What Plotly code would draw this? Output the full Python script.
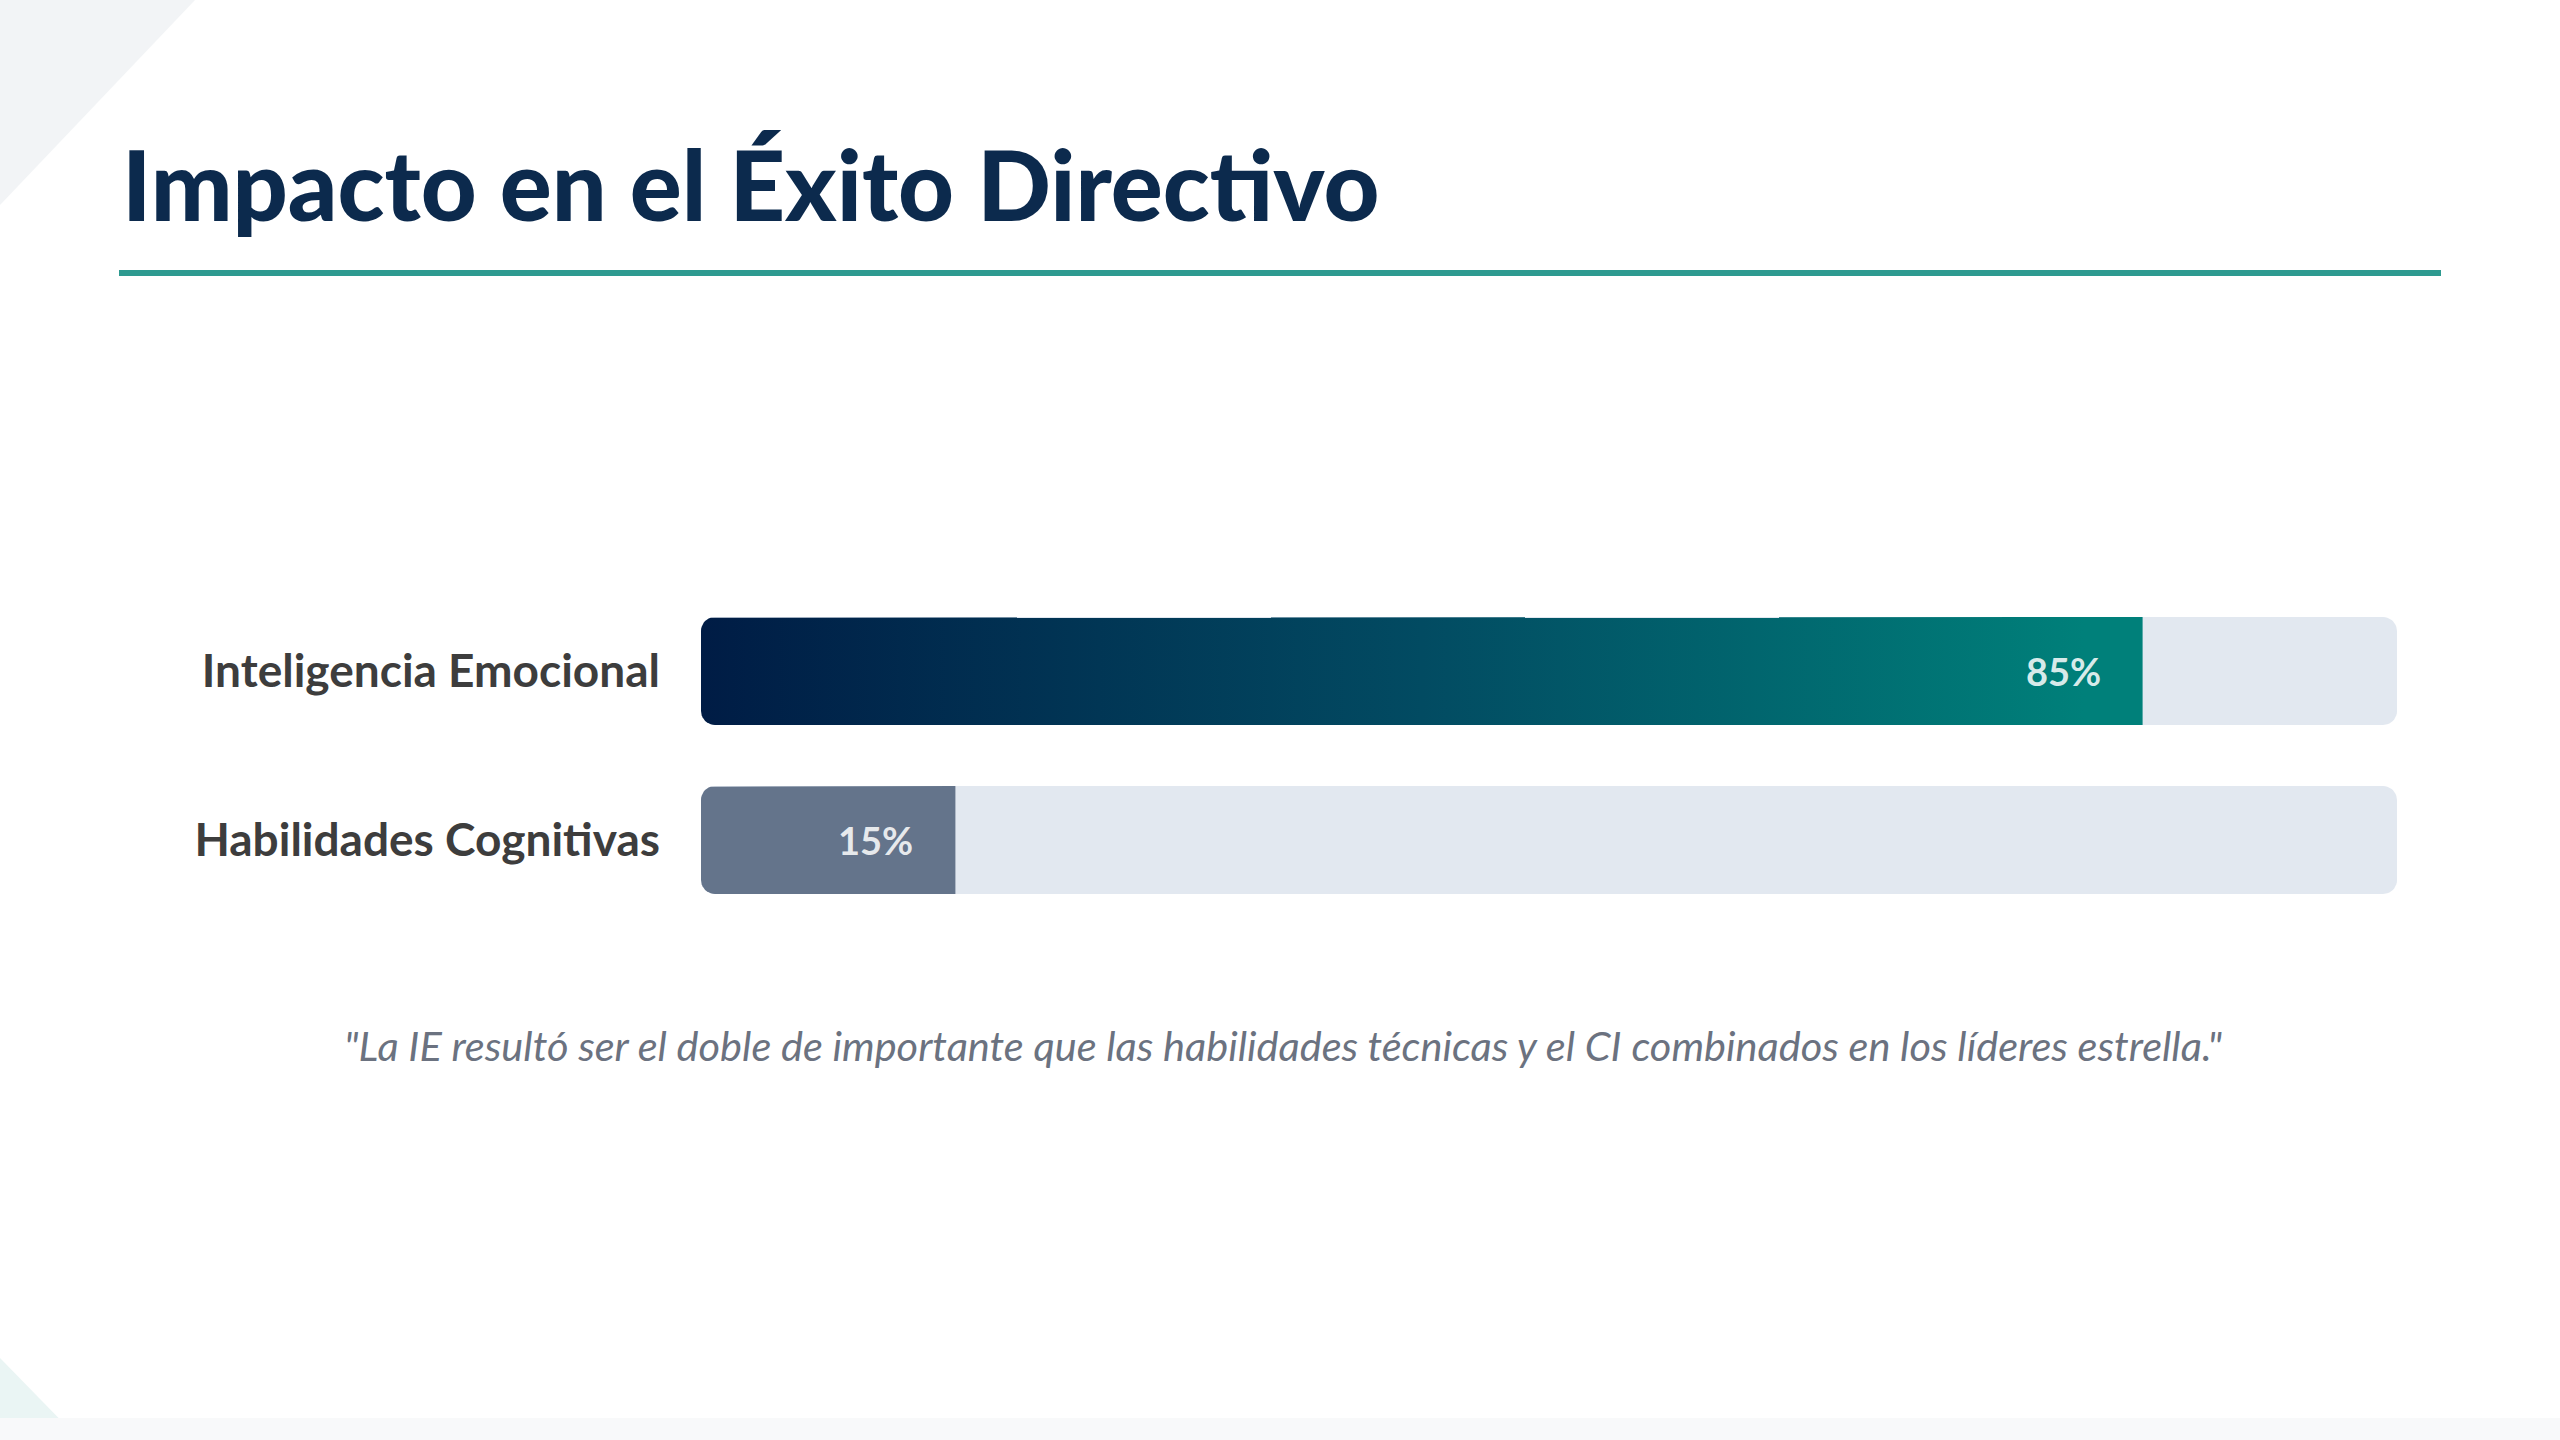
import math
import plotly.graph_objects as go

# ---------------- data ----------------
categories = ["Inteligencia Emocional", "Habilidades Cognitivas"]
values = [85, 15]
track_max = 100
value_labels = ["85%", "15%"]
title_text = "Impacto en el Éxito Directivo"
quote_text = "\"La IE resultó ser el doble de importante que las habilidades técnicas y el CI combinados en los líderes estrella.\""

# ---------------- layout geometry (pixels) ----------------
W, H = 2560, 1440
PLOT_L, PLOT_R = 701, 2397
PLOT_T, PLOT_B = 560, 950
Y_POS = [1, 0]                       # category positions on y axis
Y_RANGE = [-0.651, 1.657]
PX_PER_X = (PLOT_R - PLOT_L) / track_max
PX_PER_Y = (PLOT_B - PLOT_T) / (Y_RANGE[1] - Y_RANGE[0])
BAR_HALF = 54 / PX_PER_Y
RADIUS = 14

def px2paper(px, py):
    return (px - PLOT_L) / (PLOT_R - PLOT_L), (PLOT_B - py) / (PLOT_B - PLOT_T)

def rrect(x0, x1, yc, hh, r_px, left=True, right=True, n=10):
    rx, ry = r_px / PX_PER_X, r_px / PX_PER_Y
    corners = [
        ((x1, yc + hh), (x1 - rx, yc + hh - ry), 0, right),
        ((x0, yc + hh), (x0 + rx, yc + hh - ry), 90, left),
        ((x0, yc - hh), (x0 + rx, yc - hh + ry), 180, left),
        ((x1, yc - hh), (x1 - rx, yc - hh + ry), 270, right),
    ]
    xs, ys = [], []
    for pt, c, a0, rounded in corners:
        if rounded:
            for k in range(n + 1):
                a = math.radians(a0 + 90 * k / n)
                xs.append(c[0] + rx * math.cos(a))
                ys.append(c[1] + ry * math.sin(a))
        else:
            xs.append(pt[0]); ys.append(pt[1])
    xs.append(xs[0]); ys.append(ys[0])
    return xs, ys

fig = go.Figure()

# tracks
for yc in Y_POS:
    xs, ys = rrect(0, track_max, yc, BAR_HALF, RADIUS)
    fig.add_trace(go.Scatter(x=xs, y=ys, mode="lines", fill="toself",
                             fillcolor="#e2e8f0", line=dict(width=0, color="#e2e8f0"),
                             hoverinfo="skip", showlegend=False))

# value bars
for i, (v, yc) in enumerate(zip(values, Y_POS)):
    xs, ys = rrect(0, v, yc, BAR_HALF, RADIUS, left=True, right=False)
    if i == 0:
        fig.add_trace(go.Scatter(x=xs, y=ys, mode="lines", fill="toself",
                                 fillgradient=dict(type="horizontal",
                                                   colorscale=[[0, "#001c45"], [0.5, "#024b62"], [0.96, "#00807a"], [1, "#00807a"]]),
                                 line=dict(width=0, color="rgba(0,0,0,0)"),
                                 hoverinfo="skip", showlegend=False, name=categories[i]))
    else:
        fig.add_trace(go.Scatter(x=xs, y=ys, mode="lines", fill="toself",
                                 fillcolor="#64748b", line=dict(width=0, color="#64748b"),
                                 hoverinfo="skip", showlegend=False, name=categories[i]))

annotations = []
for v, yc, lab in zip(values, Y_POS, value_labels):
    annotations.append(dict(x=v, y=yc, xref="x", yref="y", text=lab, showarrow=False,
                            xanchor="right", yanchor="middle", xshift=-40,
                            font=dict(family="Lato", size=38, color="rgba(255,255,255,0.85)", weight="bold")))

# title
tx, ty = px2paper(120, 183)
annotations.append(dict(x=tx, y=ty, xref="paper", yref="paper", text=title_text, showarrow=False,
                        xanchor="left", yanchor="middle",
                        font=dict(family="Lato", size=97, color="#0c2a4d", weight=900)))
# quote
qx, qy = px2paper(1283, 1045)
annotations.append(dict(x=qx, y=qy, xref="paper", yref="paper", text="<i>" + quote_text + "</i>",
                        showarrow=False, xanchor="center", yanchor="middle",
                        font=dict(family="Lato", size=41.5, color="#6b7280")))

shapes = []
# underline
ux0, uy = px2paper(119, 273)
ux1, _ = px2paper(2441, 273)
shapes.append(dict(type="line", xref="paper", yref="paper", x0=ux0, x1=ux1, y0=uy, y1=uy,
                   line=dict(color="#2e9a90", width=6)))
# decorative top-left triangle
a = px2paper(0, 0); b = px2paper(195, 0); c = px2paper(0, 205)
shapes.append(dict(type="path", xref="paper", yref="paper", layer="below",
                   path=f"M {a[0]} {a[1]} L {b[0]} {b[1]} L {c[0]} {c[1]} Z",
                   fillcolor="#f2f4f6", line=dict(width=0)))
# decorative bottom-left triangle
a = px2paper(0, 1358); b = px2paper(80, 1440); c = px2paper(0, 1440)
shapes.append(dict(type="path", xref="paper", yref="paper", layer="below",
                   path=f"M {a[0]} {a[1]} L {b[0]} {b[1]} L {c[0]} {c[1]} Z",
                   fillcolor="#eaf5f4", line=dict(width=0)))
# bottom strip
a = px2paper(0, 1418); b = px2paper(W, 1440)
shapes.append(dict(type="rect", xref="paper", yref="paper", layer="below",
                   x0=a[0], y0=a[1], x1=b[0], y1=b[1],
                   fillcolor="#f8f9fa", line=dict(width=0)))

fig.update_layout(
    width=W, height=H,
    margin=dict(l=PLOT_L, r=W - PLOT_R, t=PLOT_T, b=H - PLOT_B, pad=0, autoexpand=False),
    paper_bgcolor="white", plot_bgcolor="rgba(0,0,0,0)",
    showlegend=False,
    xaxis=dict(range=[0, track_max], visible=False, fixedrange=True),
    yaxis=dict(range=Y_RANGE, tickvals=Y_POS, ticktext=categories, showgrid=False,
               zeroline=False, showline=False, ticks="", ticklabelstandoff=40,
               tickfont=dict(family="Lato", size=46, color="#3d3d3d", weight="bold"),
               fixedrange=True),
    annotations=annotations,
    shapes=shapes,
)

fig.write_html("out.html", config={"displayModeBar": False})
